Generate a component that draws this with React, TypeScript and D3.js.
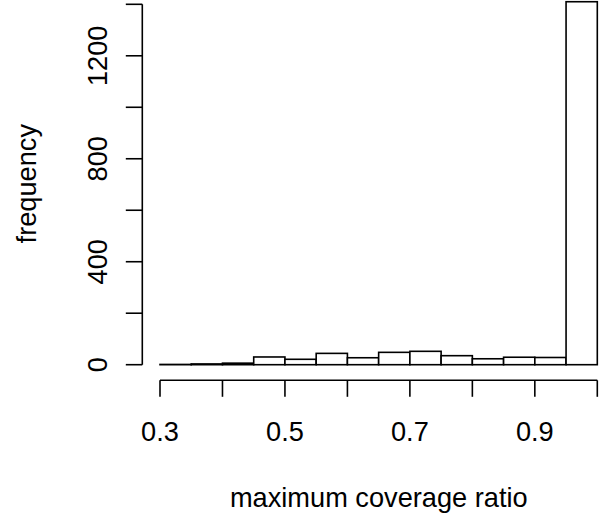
import React from "react";
import * as d3 from "d3";

// Histogram of maximum coverage ratio, bins of width 0.05
const binStarts = [0.3, 0.35, 0.4, 0.45, 0.5, 0.55, 0.6, 0.65, 0.7, 0.75, 0.8, 0.85, 0.9, 0.95];
const binCounts = [1, 3, 6, 30, 21, 44, 27, 48, 52, 35, 23, 29, 28, 1410];
const binWidth = 0.05;

const xTicks = [0.3, 0.4, 0.5, 0.6, 0.7, 0.8, 0.9, 1.0];
const xTickLabels = ["0.3", "", "0.5", "", "0.7", "", "0.9", ""];
const yTicks = [0, 200, 400, 600, 800, 1000, 1200, 1400];
const yTickLabels = ["0", "", "400", "", "800", "", "1200", ""];

const W = 603;
const H = 518;
const FONT = "'Liberation Sans', Arial, Helvetica, sans-serif";
const FS = 27.2;

export default function App() {
  const x = d3.scaleLinear().domain([0.3, 1.0]).range([160, 597.3]);
  const y = d3.scaleLinear().domain([0, 1400]).range([364.7, 4.3]);

  const axisX = 142.3; // left edge of plot region
  const axisY = 380.3; // bottom edge of plot region
  const tick = 16.5;
  const sw = 1.6;

  return (
    <svg
      width={W}
      height={H}
      style={{ position: "absolute", left: 0, top: 0, display: "block", background: "#fff" }}
      fontFamily={FONT}
    >
      <rect x={0} y={0} width={W} height={H} fill="#fff" />
      {/* bars */}
      {binStarts.map((b, i) => (
        <rect
          key={i}
          x={x(b)}
          y={y(binCounts[i])}
          width={x(b + binWidth) - x(b)}
          height={y(0) - y(binCounts[i])}
          fill="#fff"
          stroke="#000"
          strokeWidth={sw}
        />
      ))}

      {/* y axis */}
      <line x1={axisX} x2={axisX} y1={y(0)} y2={y(1400)} stroke="#000" strokeWidth={sw} />
      {yTicks.map((t, i) => (
        <g key={t}>
          <line x1={axisX - tick} x2={axisX} y1={y(t)} y2={y(t)} stroke="#000" strokeWidth={sw} />
          {yTickLabels[i] && (
            <text
              transform={`translate(${107},${y(t)}) rotate(-90)`}
              textAnchor="middle"
              fontSize={FS}
              fill="#000"
            >
              {yTickLabels[i]}
            </text>
          )}
        </g>
      ))}

      {/* x axis */}
      <line x1={x(0.3)} x2={x(1.0)} y1={axisY} y2={axisY} stroke="#000" strokeWidth={sw} />
      {xTicks.map((t, i) => (
        <g key={t}>
          <line x1={x(t)} x2={x(t)} y1={axisY} y2={axisY + tick} stroke="#000" strokeWidth={sw} />
          {xTickLabels[i] && (
            <text x={x(t)} y={441} textAnchor="middle" fontSize={FS} fill="#000">
              {xTickLabels[i]}
            </text>
          )}
        </g>
      ))}

      {/* axis titles */}
      <text x={378.8} y={506.5} textAnchor="middle" fontSize={FS} fill="#000">
        maximum coverage ratio
      </text>
      <text
        transform={`translate(${36},${183.7}) rotate(-90)`}
        textAnchor="middle"
        fontSize={FS}
        fill="#000"
      >
        frequency
      </text>
    </svg>
  );
}
